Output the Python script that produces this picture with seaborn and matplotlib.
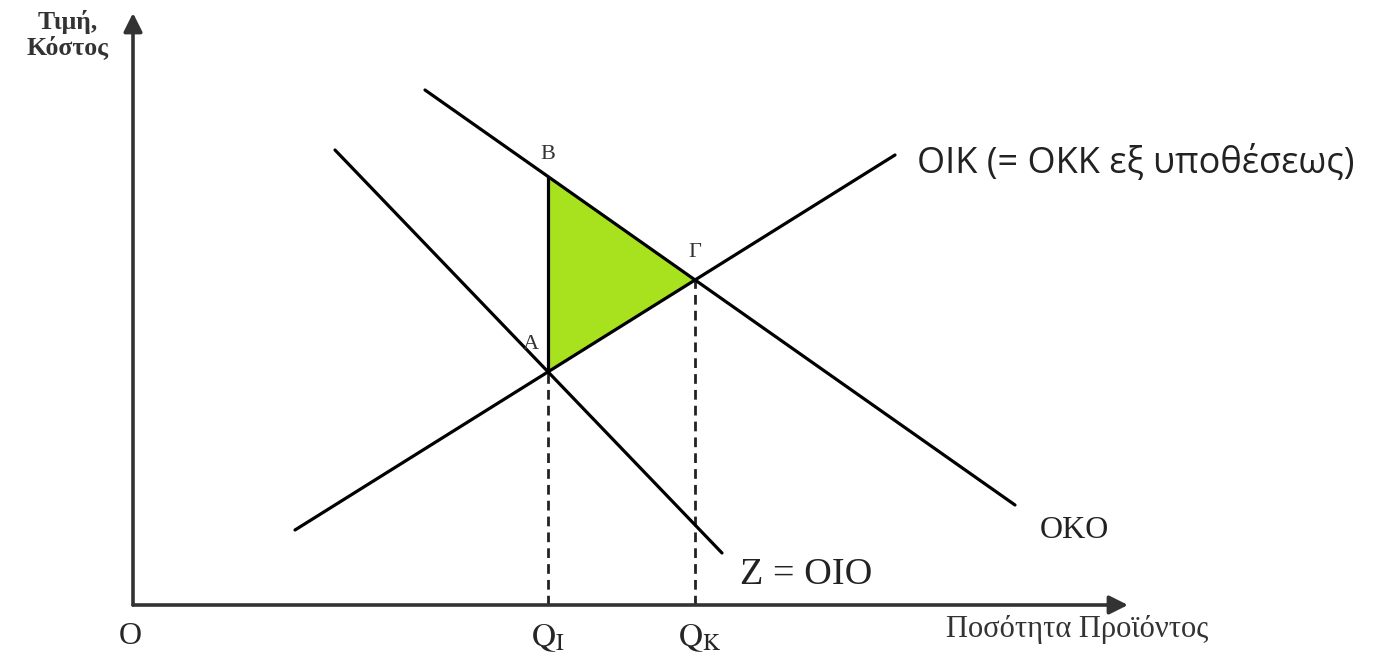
import numpy as np
import pandas as pd
import matplotlib
matplotlib.use("Agg")
import matplotlib.pyplot as plt
import seaborn as sns

# line endpoints (quantity, price) in diagram units
oik_q = [1.62, 7.62]   # supply / private marginal cost
oik_p = [0.75, 4.50]
oko_q = [2.92, 8.82]   # social marginal benefit
oko_p = [5.15, 1.00]
z_q = [2.02, 5.89]     # private marginal benefit (Z = OIO)
z_p = [4.55, 0.52]

line_labels = ["OIK (= OKK εξ υποθέσεως)", "OKO", "Z = OIO"]


def line_coef(q, p):
    m = (p[1] - p[0]) / (q[1] - q[0])
    return m, p[0] - m * q[0]


def intersect(l1, l2):
    m1, b1 = line_coef(*l1)
    m2, b2 = line_coef(*l2)
    x = (b2 - b1) / (m1 - m2)
    return x, m1 * x + b1


sns.set_style("white")
plt.rcParams['font.family'] = ['DejaVu Sans']
plt.rcParams['mathtext.fontset'] = 'stix'

fig = plt.figure(figsize=(13.81, 6.56), dpi=100)
ax = fig.add_axes([0, 0, 1, 1])
ax.set_xlim(-1.33, 12.48)
ax.set_ylim(-0.51, 6.05)
ax.axis("off")

df = pd.concat([
    pd.DataFrame({"q": oik_q, "p": oik_p, "curve": "OIK"}),
    pd.DataFrame({"q": oko_q, "p": oko_p, "curve": "OKO"}),
    pd.DataFrame({"q": z_q, "p": z_p, "curve": "Z"}),
])
sns.lineplot(data=df, x="q", y="p", units="curve", estimator=None, sort=False,
             color="black", lw=2.3, ax=ax, legend=False, zorder=3)

# key points
qi, pa = intersect((z_q, z_p), (oik_q, oik_p))
m_oko, b_oko = line_coef(oko_q, oko_p)
pb = m_oko * qi + b_oko
qk, pg = intersect((oik_q, oik_p), (oko_q, oko_p))

ax.fill([qi, qi, qk], [pa, pb, pg], color="#a8e21f", zorder=1)
ax.plot([qi, qi], [pa, pb], color="black", lw=2.3, zorder=3)
ax.plot([qi, qi], [0, pa], color="#222222", lw=2, ls=(0, (3.5, 2.2)), zorder=2)
ax.plot([qk, qk], [0, pg], color="#222222", lw=2, ls=(0, (3.5, 2.2)), zorder=2)

# axes with arrows
arrow = dict(arrowstyle="-|>", color="#333333", lw=2.6, mutation_scale=28,
             shrinkA=0, shrinkB=0)
ax.annotate("", xy=(0, 5.92), xytext=(0, 0), arrowprops=arrow, zorder=4)
ax.annotate("", xy=(9.95, 0), xytext=(0, 0), arrowprops=arrow, zorder=4)

serif = "Liberation Serif"
ax.text(-0.65, 5.95, "Τιμή,\nΚόστος", family=serif, fontsize=18.5, color="#333333",
        ha="center", va="top", linespacing=1.05, fontweight="bold")
ax.text(9.44, -0.24, "Ποσότητα Προϊόντος", family=serif, fontsize=22, color="#333333",
        ha="center", va="center")
ax.text(-0.03, -0.32, "O", family=serif, fontsize=23, ha="center", va="center")
ax.text(qi, -0.32, r"$\mathrm{Q}_{\mathrm{I}}$", fontsize=24, ha="center", va="center")
ax.text(qk + 0.05, -0.32, r"$\mathrm{Q}_{\mathrm{K}}$", fontsize=24, ha="center", va="center")

ax.text(qi, pb + 0.22, "B", family=serif, fontsize=16, ha="center", va="center",
        color="#333333")
ax.text(qk, pg + 0.27, "Γ", family=serif, fontsize=16, ha="center", va="center",
        color="#333333")
ax.text(qi - 0.17, pa + 0.27, "A", family=serif, fontsize=16, ha="center", va="center",
        color="#333333")

ax.text(oik_q[1] + 0.22, oik_p[1] - 0.08, line_labels[0], family="Open Sans",
        fontsize=26, color="#222222", ha="left", va="center")
ax.text(oko_q[1] + 0.25, oko_p[1] - 0.26, line_labels[1], family=serif,
        fontsize=23, color="#222222", ha="left", va="center")
ax.text(z_q[1] + 0.18, z_p[1] - 0.22, line_labels[2], family=serif,
        fontsize=27.5, color="#222222", ha="left", va="center")

fig.savefig("out.png", dpi=100, facecolor="white")
